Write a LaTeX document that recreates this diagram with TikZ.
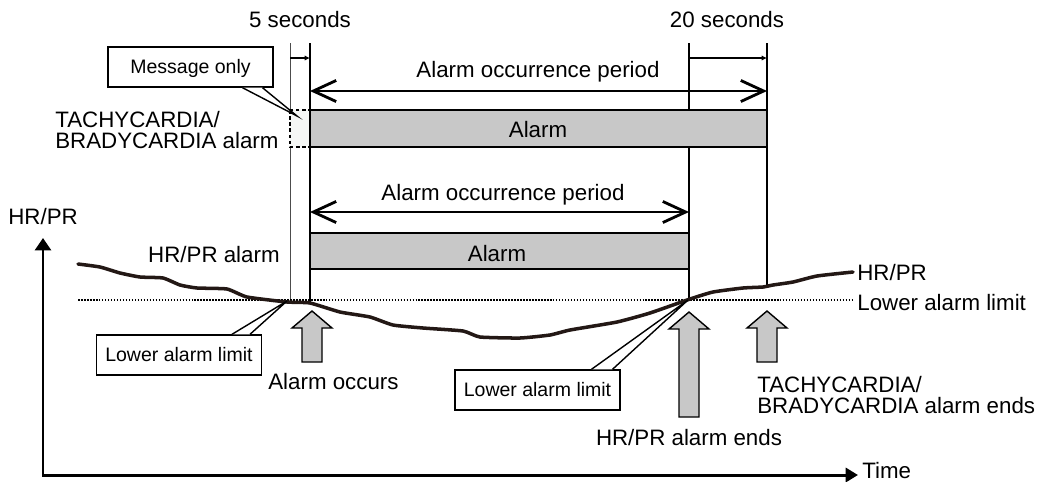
\documentclass[tikz,border=0pt]{standalone}
\usepackage{fontspec}
\setmainfont{Liberation Sans}
\usetikzlibrary{arrows.meta,calc}
\definecolor{bargray}{HTML}{C8C8C8}
\definecolor{hrbrown}{HTML}{231815}
\definecolor{msgfill}{HTML}{F5F7F5}
% block arrow: name, x, tip y, bottom y
\newcommand{\blockarrow}[4]{%
\draw[blockarr] (#2,#3) coordinate (#1) -- (#2+20,#3+17) -- (#2+10,#3+17) -- (#2+10,#4) -- (#2-10,#4) -- (#2-10,#3+17) -- (#2-20,#3+17) -- cycle;}

\begin{document}
\begin{tikzpicture}[x=0.02cm, y=-0.02cm, line join=miter,
lbl/.style={font=\fontsize{12.7}{11.9}\selectfont, inner sep=0pt},
callout/.style={draw, fill=white, line width=0.8pt, inner sep=0pt, font=\fontsize{11.1}{13}\selectfont,
 text height=7.9pt, text depth=0pt, minimum width=3.3cm, minimum height=0.8cm},
bar/.style={draw, fill=bargray, line width=0.8pt},
vline/.style={line width=0.9pt},
period/.style={line width=1.1pt, {Straight Barb[length=13pt,width=12pt,line width=1.6pt]}-{Straight Barb[length=13pt,width=12pt,line width=1.6pt]}},
delay/.style={line width=0.6pt, -{Latex[length=3pt,width=3pt]}},
axis/.style={line width=1.7pt, {Triangle[length=7pt,width=9pt]}-{Triangle[length=7pt,width=8pt]}},
limit/.style={line width=1.1pt, dash pattern=on 0.9pt off 0.8pt},
blockarr/.style={draw, fill=bargray, line width=0.8pt}
]
\useasboundingbox (0,0) rectangle (1037,481);

% time marks
\draw[line width=0.5pt, black!70] (290,43) -- (290,301);
\foreach \x/\yb in {310/303,689/299,767/287}
{
\draw[vline] (\x,43) -- (\x,\yb);
}
\node[lbl, anchor=base] (t5) at (300,27) {5 seconds};
\node[lbl, anchor=base] (t20) at (727,27) {20 seconds};
\coordinate (d5a) at (290,58); \coordinate (d5b) at (310,58);
\coordinate (d20a) at (689,58); \coordinate (d20b) at (767,58);
\draw[delay] (d5a) -- (d5b);
\draw[delay] (d20a) -- (d20b);

% TACHYCARDIA/BRADYCARDIA alarm
\draw[dash pattern=on 2pt off 1.5pt, line width=0.6pt, fill=msgfill] (290,110) rectangle (310,147);
\draw[bar] (310,110) rectangle (767,147);
\node[lbl, anchor=base] (alarmT) at (538,137) {Alarm};
\coordinate (pT1) at (310,91); \coordinate (pT2) at (767,91);
\draw[period] (pT1) -- (pT2);
\node[lbl, anchor=base] (perT) at (538,77) {Alarm occurrence period};
\node[lbl, anchor=base west, align=left] (tachy) at (55,148) {TACHYCARDIA/\\BRADYCARDIA alarm};

% HR/PR alarm
\draw[bar] (310,233) rectangle (689,269);
\node[lbl, anchor=base] (alarmH) at (497,261) {Alarm};
\coordinate (pH1) at (310,212); \coordinate (pH2) at (689,212);
\draw[period] (pH1) -- (pH2);
\node[lbl, anchor=base] (perH) at (503,200) {Alarm occurrence period};
\node[lbl, anchor=base east] (hralarm) at (280,262) {HR/PR alarm};

% axes
\coordinate (origin) at (43,475);
\coordinate (ytop) at (43,238);
\coordinate (xend) at (858,475);
\draw[axis] (ytop) -- (origin) -- (xend);
\node[lbl, anchor=base west] (yname) at (8,224) {HR/PR};
\node[lbl, anchor=base west] (xname) at (862,478) {Time};

% lower limit and HR/PR trend
\coordinate (lim1) at (78,300); \coordinate (lim2) at (853,300);
\draw[limit] (lim1) -- (lim2);
\draw[hrbrown, line width=2pt, line cap=round] plot[smooth, tension=0.3] coordinates {
(78,264) (100,267) (120,273) (140,277) (163,278) (180,285) (197,288) (227,289) (247,297)
(287,302) (310,303) (340,312) (370,317) (393,325) (423,328) (463,331) (480,337) (520,338)
(550,335) (570,330) (617,322) (650,313) (690,299) (713,292) (743,288) (763,287) (773,285)
(793,282) (817,276) (853,272)};
\node[lbl, anchor=base west] (hrpr) at (857,280) {HR/PR};
\node[lbl, anchor=base west] (lowR) at (857,310) {Lower alarm limit};

% events
\blockarrow{occ}{312}{311}{362}
\blockarrow{hrend}{689}{312}{417}
\blockarrow{tbend}{767}{311}{362}
\node[lbl, anchor=base west] (occtext) at (268,389) {Alarm occurs};
\node[lbl, anchor=base] (hrendtext) at (689,445) {HR/PR alarm ends};
\node[lbl, anchor=base west, align=left] (tbendtext) at (757,413) {TACHYCARDIA/\\BRADYCARDIA alarm ends};

% callouts
\node[callout] (msg) at (190.5,67) {Message only};
\coordinate (msgtip) at (297,116);
\node[callout] (lowL) at (179,355) {Lower alarm limit};
\coordinate (lowLtip) at (287,301);
\node[callout] (lowM) at (537.5,390) {Lower alarm limit};
\coordinate (lowMtip) at (688,300);
\foreach \cbox/\tip/\ba/\bb/\side in {msg/msgtip/52/72/south, lowL/lowLtip/53/71/north, lowM/lowMtip/54/75/north}
{
\fill[white] ($(\cbox.\side)+(\ba,0)$) -- (\tip) -- ($(\cbox.\side)+(\bb,0)$) -- cycle;
\draw[line width=0.8pt] ($(\cbox.\side)+(\ba,0)$) -- (\tip) -- ($(\cbox.\side)+(\bb,0)$);
}
\end{tikzpicture}
\end{document}
